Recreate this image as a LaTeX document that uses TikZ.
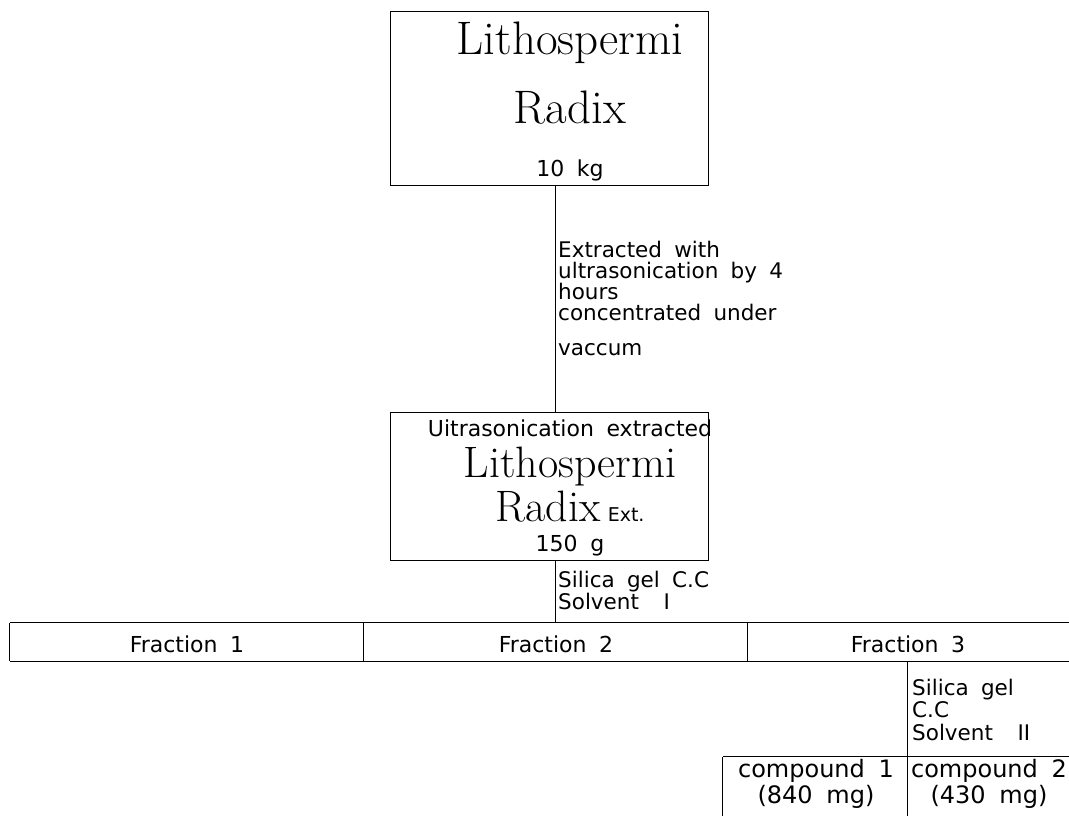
\documentclass[tikz,border=0pt]{standalone}
\usepackage{fontspec}
\newfontfamily\gul{DejaVu Sans}[WordSpace=1.8]
\begin{document}
\begin{tikzpicture}[x=1pt,y=-1pt]
\tikzset{
  box/.style={draw=black, line width=1pt, inner sep=0pt},
  cell/.style={inner sep=0pt},
  wire/.style={line width=1pt, draw=black},
  lbl/.style={font=\gul\fontsize{21.5}{24}\selectfont, inner sep=0pt, anchor=base west},
  ctr/.style={font=\gul\fontsize{22}{26}\selectfont, inner sep=0pt, anchor=base},
  cmp/.style={font=\gul\fontsize{24}{28}\selectfont, inner sep=0pt, anchor=base},
  big/.style={font=\fontsize{47}{52}\selectfont, inner sep=0pt, anchor=base},
  bigm/.style={font=\fontsize{44}{48}\selectfont, inner sep=0pt, anchor=base}
}
\fill[white] (0,0) rectangle (1069,816);
\useasboundingbox (0,0) rectangle (1069,816);

% boxes
\node[box, minimum width=318pt, minimum height=173pt] (top) at (549,98.5) {};
\node[box, minimum width=318pt, minimum height=148pt] (mid) at (549,486) {};

% fraction cells
\node[cell, minimum width=354pt, minimum height=38pt] (f1) at (187,642) {};
\node[cell, minimum width=384pt, minimum height=38pt] (f2) at (556,642) {};
\node[cell, minimum width=326pt, minimum height=38pt] (f3) at (911,642) {};
% compound cells
\node[cell, minimum width=185pt, minimum height=66pt] (c1) at (815.5,790) {};
\node[cell, minimum width=170pt, minimum height=66pt] (c2) at (993,790) {};

\coordinate (s1) at (555,0);

% connectors
\draw[wire] (top.south -| s1) -- (mid.north -| s1);
\draw[wire] (mid.south -| s1) -- (f2.north -| s1);
\draw[wire] (f3.south -| c2.north west) -- (c2.north west);

% fraction row lines
\draw[wire] (f1.north west) -- (f3.north east);
\draw[wire] (f1.south west) -- (f3.south east);
\draw[wire] (f1.north west) -- (f1.south west);
\draw[wire] (f2.north west) -- (f2.south west);
\draw[wire] (f3.north west) -- (f3.south west);
% compound row lines
\draw[wire] (c1.north west) -- (c2.north east);
\draw[wire] (c1.north west) -- (c1.south west);
\draw[wire] (c2.north west) -- (c2.south west);

% top box text
\node[big] (t1) at (570,55) {Lithospermi};
\node[big] (t2) at (570,123) {Radix};
\node[ctr] (t3) at (570,176) {10 kg};

% extraction label
\node[lbl] (e1) at (558,257) {Extracted with};
\node[lbl] (e2) at (558,278) {ultrasonication by 4};
\node[lbl] (e3) at (558,299) {hours};
\node[lbl] (e4) at (558,320) {concentrated under};
\node[lbl] (e5) at (558,355) {vaccum};

% middle box text
\node[ctr] (m1) at (570,436) {Uitrasonication extracted};
\node[bigm] (m2) at (570,477) {Lithospermi};
\node[bigm] (m3) at (570,521) {Radix\,{\gul\fontsize{19}{21}\selectfont Ext.}};
\node[ctr] (m4) at (570,551) {150 g};

% silica label 1
\node[lbl] (s1a) at (558,587) {Silica gel C.C};
\node[lbl] (s1b) at (558,609) {Solvent\ \ I};

% fractions
\node[ctr] (ft1) at (187,652) {Fraction 1};
\node[ctr] (ft2) at (556,652) {Fraction 2};
\node[ctr] (ft3) at (908,652) {Fraction 3};

% silica label 2
\node[lbl] (s2a) at (912,695) {Silica gel};
\node[lbl] (s2b) at (912,717) {C.C};
\node[lbl] (s2c) at (912,740) {Solvent\ \ II};

% compounds
\node[cmp] (k1) at (816,777) {compound 1};
\node[cmp] (k2) at (816,803) {(840 mg)};
\node[cmp] (k3) at (989,777) {compound 2};
\node[cmp] (k4) at (989,803) {(430 mg)};
\end{tikzpicture}
\end{document}
